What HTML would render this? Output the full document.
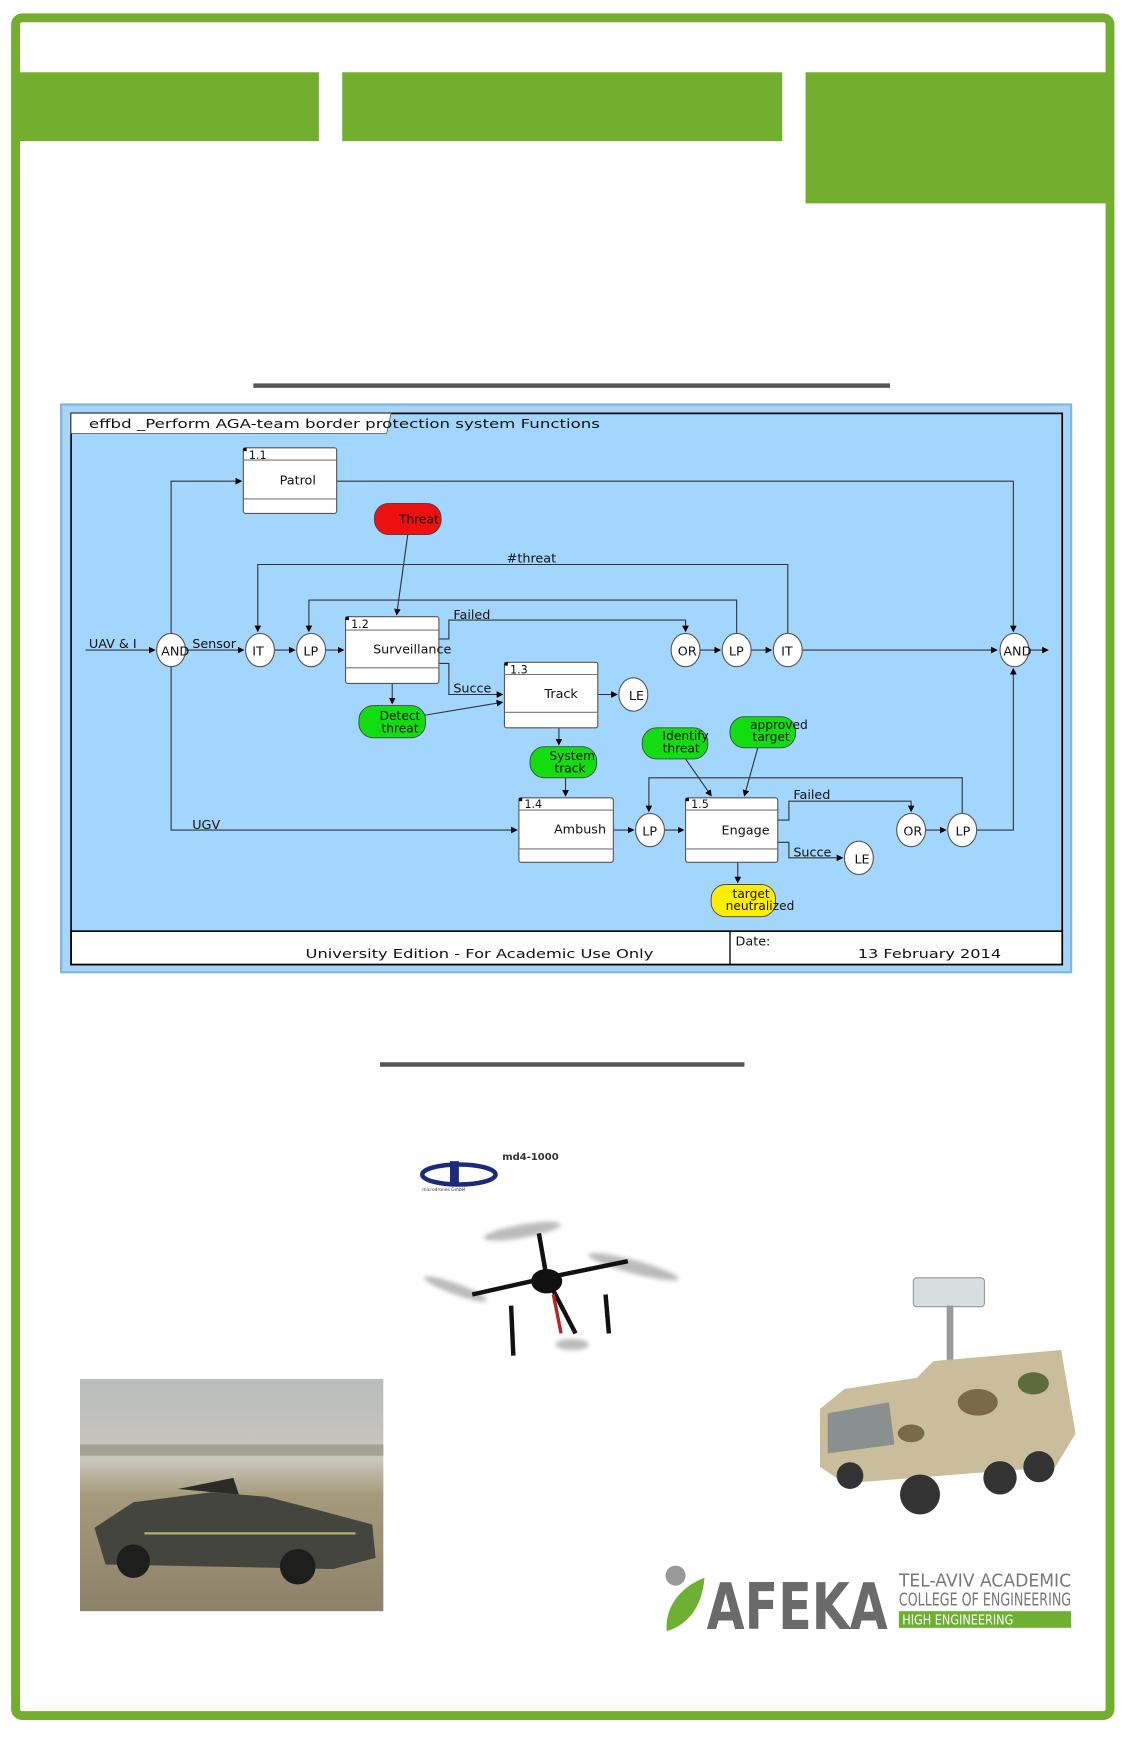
<!DOCTYPE html>
<html><head><meta charset="utf-8"><style>
html,body{margin:0;padding:0;background:#fff;}
svg{display:block;}
text{font-family:"DejaVu Sans","Liberation Sans",sans-serif;}
</style></head><body>
<svg width="1126" height="1739" viewBox="0 0 1013.4 1565" xmlns="http://www.w3.org/2000/svg">
<defs>
<marker id="a" markerWidth="6" markerHeight="6" refX="5" refY="3" orient="auto"><path d="M0,0 L6,3 L0,6z" fill="#000"/></marker>
<linearGradient id="sky" x1="0" y1="0" x2="0" y2="1"><stop offset="0" stop-color="#b9bcbc"/><stop offset="0.35" stop-color="#c9c6bb"/><stop offset="0.5" stop-color="#a59a7c"/><stop offset="1" stop-color="#8d826a"/></linearGradient>
<filter id="bl"><feGaussianBlur stdDeviation="2"/></filter>
</defs>
<rect width="1013.4" height="1565" fill="#fff"/>
<rect x="14" y="16" width="985" height="1528" rx="6" fill="none" stroke="#74ae2f" stroke-width="8"/>
<rect x="18" y="65" width="269" height="62" fill="#74ae2f"/>
<rect x="308" y="65" width="396" height="62" fill="#74ae2f"/>
<rect x="725" y="65" width="272" height="118" fill="#74ae2f"/>
<rect x="228" y="345" width="573" height="4" fill="#555"/>
<rect x="342" y="956" width="328" height="4" fill="#555"/>

<rect x="55" y="364" width="909" height="511" fill="#a8d4f8" stroke="#7fb6e6" stroke-width="2"/>
<rect x="64" y="372" width="892" height="496" fill="#a3d6fc" stroke="#000" stroke-width="1.5"/>
<path d="M64,372 H352 L348,390 H64z" fill="#fff" stroke="#555" stroke-width="0.7"/>
<text x="80" y="385" font-size="11.5" fill="#111" textLength="460" lengthAdjust="spacingAndGlyphs">effbd _Perform AGA-team border protection system Functions</text>
<rect x="64" y="838" width="892" height="30" fill="#fff" stroke="#000" stroke-width="1.5"/>
<line x1="657" y1="838" x2="657" y2="868" stroke="#000" stroke-width="1.2"/>
<text x="275" y="862" font-size="11.5" fill="#111" textLength="313" lengthAdjust="spacingAndGlyphs">University Edition - For Academic Use Only</text>
<text x="662" y="851" font-size="11.5" fill="#111">Date:</text>
<text x="772" y="862" font-size="11.5" fill="#111" textLength="129" lengthAdjust="spacingAndGlyphs">13 February 2014</text>

<g stroke="#333" stroke-width="1" fill="none">
<path d="M77,585 H139" marker-end="url(#a)"/>
<path d="M167,585 H219" marker-end="url(#a)"/>
<path d="M247,585 H265" marker-end="url(#a)"/>
<path d="M293,585 H309" marker-end="url(#a)"/>
<path d="M154,570 V433 H217" marker-end="url(#a)"/>
<path d="M154,600 V747 H465" marker-end="url(#a)"/>
<path d="M303,433 H912 V568" marker-end="url(#a)"/>
<path d="M709,570 V508 H232 V568" marker-end="url(#a)"/>
<path d="M663,570 V540 H278 V568" marker-end="url(#a)"/>
<path d="M395,575 H404 V558 H617 V568" marker-end="url(#a)"/>
<path d="M395,597 H404 V625 H452" marker-end="url(#a)"/>
<path d="M630,585 H648" marker-end="url(#a)"/>
<path d="M676,585 H694" marker-end="url(#a)"/>
<path d="M722,585 H897" marker-end="url(#a)"/>
<path d="M926,585 H943" marker-end="url(#a)"/>
<path d="M538,625 H555" marker-end="url(#a)"/>
<path d="M367,481 L357,553" marker-end="url(#a)"/>
<path d="M353,615 V633" marker-end="url(#a)"/>
<path d="M380,644 L452,632" marker-end="url(#a)"/>
<path d="M503,655 V670" marker-end="url(#a)"/>
<path d="M509,700 V716" marker-end="url(#a)"/>
<path d="M552,747 H570" marker-end="url(#a)"/>
<path d="M598,747 H615" marker-end="url(#a)"/>
<path d="M866,732 V700 H584 V730" marker-end="url(#a)"/>
<path d="M617,683 L640,716" marker-end="url(#a)"/>
<path d="M682,673 L670,716" marker-end="url(#a)"/>
<path d="M700,738 H710 V721 H820 V730" marker-end="url(#a)"/>
<path d="M700,758 H710 V772 H758" marker-end="url(#a)"/>
<path d="M833,747 H851" marker-end="url(#a)"/>
<path d="M879,747 H912 V602" marker-end="url(#a)"/>
<path d="M664,776 V794" marker-end="url(#a)"/>
</g>

<g font-size="11.5" fill="#111">
<text x="80" y="583">UAV &amp; I</text>
<text x="173" y="583">Sensor</text>
<text x="456" y="506">#threat</text>
<text x="408" y="557">Failed</text>
<text x="408" y="623">Succe</text>
<text x="173" y="746">UGV</text>
<text x="714" y="719">Failed</text>
<text x="714" y="771">Succe</text>
</g>

<g stroke="#555" stroke-width="1" fill="#fff">
<rect x="219" y="403" width="84" height="59" rx="2"/>
<rect x="311" y="555" width="84" height="60" rx="2"/>
<rect x="454" y="596" width="84" height="59" rx="2"/>
<rect x="467" y="718" width="85" height="58" rx="2"/>
<rect x="617" y="718" width="83" height="58" rx="2"/>
</g>
<g stroke="#777" stroke-width="1">
<line x1="219" y1="414" x2="303" y2="414"/><line x1="219" y1="449" x2="303" y2="449"/>
<line x1="311" y1="567" x2="395" y2="567"/><line x1="311" y1="601" x2="395" y2="601"/>
<line x1="454" y1="607" x2="538" y2="607"/><line x1="454" y1="641" x2="538" y2="641"/>
<line x1="467" y1="729" x2="552" y2="729"/><line x1="467" y1="764" x2="552" y2="764"/>
<line x1="617" y1="729" x2="700" y2="729"/><line x1="617" y1="764" x2="700" y2="764"/>
</g>
<g fill="#000"><rect x="219" y="403" width="3" height="3"/><rect x="311" y="555" width="3" height="3"/><rect x="454" y="596" width="3" height="3"/><rect x="467" y="718" width="3" height="3"/><rect x="617" y="718" width="3" height="3"/></g>
<g font-size="10" fill="#111">
<text x="224" y="413">1.1</text><text x="316" y="565">1.2</text><text x="459" y="606">1.3</text><text x="472" y="727">1.4</text><text x="622" y="727">1.5</text>
</g>
<g font-size="11.5" fill="#111" text-anchor="middle">
<text x="268" y="436">Patrol</text>
<text x="371" y="588">Surveillance</text>
<text x="505" y="628">Track</text>
<text x="522" y="750">Ambush</text>
<text x="671" y="751">Engage</text>
</g>

<g stroke="#555" stroke-width="1" fill="#fff">
<ellipse cx="154" cy="585" rx="13" ry="15"/>
<ellipse cx="234" cy="585" rx="13" ry="15"/>
<ellipse cx="280" cy="585" rx="13" ry="15"/>
<ellipse cx="617" cy="585" rx="13" ry="15"/>
<ellipse cx="663" cy="585" rx="13" ry="15"/>
<ellipse cx="709" cy="585" rx="13" ry="15"/>
<ellipse cx="913" cy="585" rx="13" ry="15"/>
<ellipse cx="570" cy="625" rx="13" ry="15"/>
<ellipse cx="585" cy="747" rx="13" ry="15"/>
<ellipse cx="820" cy="747" rx="13" ry="15"/>
<ellipse cx="866" cy="747" rx="13" ry="15"/>
<ellipse cx="773" cy="772" rx="13" ry="15"/>
</g>
<g font-size="11.5" fill="#111">
<text x="145" y="590">AND</text><text x="227" y="590">IT</text><text x="273" y="590">LP</text>
<text x="610" y="590">OR</text><text x="656" y="590">LP</text><text x="703" y="590">IT</text><text x="903" y="590">AND</text>
<text x="566" y="630">LE</text><text x="578" y="752">LP</text><text x="813" y="752">OR</text><text x="860" y="752">LP</text><text x="769" y="777">LE</text>
</g>

<g stroke="#444" stroke-width="0.8">
<rect x="337" y="453" width="60" height="28" rx="13" fill="#ee1111"/>
<rect x="323" y="635" width="60" height="29" rx="13" fill="#11dd11"/>
<rect x="477" y="672" width="60" height="28" rx="13" fill="#11dd11"/>
<rect x="578" y="655" width="59" height="28" rx="13" fill="#11dd11"/>
<rect x="657" y="645" width="59" height="28" rx="13" fill="#11dd11"/>
<rect x="640" y="796" width="58" height="29" rx="13" fill="#ffee00"/>
</g>
<g font-size="11" fill="#111" text-anchor="middle">
<text x="377" y="471">Threat</text>
<text x="360" y="648">Detect</text><text x="360" y="659">threat</text>
<text x="515" y="684">System</text><text x="513" y="695">track</text>
<text x="617" y="666">Identify</text><text x="613" y="677">threat</text>
<text x="701" y="656">approved</text><text x="694" y="667">target</text>
<text x="676" y="808">target</text><text x="684" y="819">neutralized</text>
</g>

<text x="452" y="1044" font-size="9" font-weight="bold" fill="#333">md4-1000</text>
<ellipse cx="413" cy="1057" rx="33" ry="9" fill="none" stroke="#1b2a7a" stroke-width="4"/>
<rect x="405" y="1045" width="8" height="22" fill="#1b2a7a"/>
<text x="380" y="1072" font-size="4" fill="#333">microdrones GmbH</text>
<g filter="url(#bl)" fill="#aaa" opacity="0.8">
<ellipse cx="470" cy="1108" rx="35" ry="6" transform="rotate(-10 470 1108)"/>
<ellipse cx="570" cy="1140" rx="42" ry="6" transform="rotate(15 570 1140)"/>
<ellipse cx="410" cy="1160" rx="30" ry="5" transform="rotate(20 410 1160)"/>
<ellipse cx="515" cy="1210" rx="15" ry="5"/>
</g>
<g stroke="#111" stroke-width="4" fill="none">
<path d="M485,1110 L492,1150 L518,1200"/>
<path d="M425,1165 L492,1150 L565,1135"/>
<path d="M460,1175 L462,1220 M545,1165 L548,1200"/>
</g>
<ellipse cx="492" cy="1153" rx="14" ry="11" fill="#111"/>
<line x1="498" y1="1165" x2="505" y2="1200" stroke="#b22" stroke-width="3"/>

<rect x="72" y="1241" width="273" height="209" fill="url(#sky)"/>
<rect x="72" y="1300" width="273" height="10" fill="#8a8a7a" opacity="0.6"/>
<path d="M85,1375 L120,1352 L190,1343 L240,1347 L290,1360 L335,1372 L338,1402 L300,1412 L95,1408 z" fill="#45453f"/>
<path d="M160,1340 L210,1330 L215,1345 z" fill="#2b2b28"/>
<circle cx="120" cy="1405" r="15" fill="#1e1e1c"/><circle cx="268" cy="1410" r="16" fill="#1e1e1c"/>
<path d="M130,1380 H320" stroke="#b8b070" stroke-width="2"/>

<rect x="822" y="1150" width="64" height="26" rx="3" fill="#d8dde0" stroke="#999"/>
<rect x="852" y="1175" width="6" height="70" fill="#999"/>
<path d="M738,1268 L760,1250 L825,1240 L840,1225 L955,1215 L968,1290 L950,1320 L760,1335 L738,1320z" fill="#c9bd9b"/>
<path d="M745,1272 L800,1262 L805,1300 L745,1308z" fill="#8a8f90"/>
<ellipse cx="880" cy="1262" rx="18" ry="12" fill="#7b6a4a"/><ellipse cx="930" cy="1245" rx="14" ry="10" fill="#5e6b3c"/><ellipse cx="820" cy="1290" rx="12" ry="8" fill="#7b6a4a"/>
<circle cx="828" cy="1345" r="18" fill="#333"/><circle cx="900" cy="1330" r="15" fill="#333"/><circle cx="935" cy="1320" r="14" fill="#333"/><circle cx="765" cy="1328" r="12" fill="#333"/>

<circle cx="608" cy="1418" r="9" fill="#999"/>
<path d="M600,1468 C598,1440 620,1425 634,1420 C632,1445 620,1462 600,1468z" fill="#6db033"/>
<text x="636" y="1466" font-size="58" font-weight="bold" fill="#6a6a6a" font-family="Liberation Sans Narrow,Liberation Sans,sans-serif" textLength="163" lengthAdjust="spacingAndGlyphs">AFEKA</text>
<text x="809" y="1428" font-size="16" fill="#777" font-family="Liberation Sans Narrow,Liberation Sans,sans-serif" textLength="155" lengthAdjust="spacingAndGlyphs">TEL-AVIV ACADEMIC</text>
<text x="809" y="1445" font-size="16" fill="#777" font-family="Liberation Sans Narrow,Liberation Sans,sans-serif" textLength="155" lengthAdjust="spacingAndGlyphs">COLLEGE OF ENGINEERING</text>
<rect x="809" y="1450" width="155" height="15" fill="#6db033"/>
<text x="812" y="1462" font-size="12" fill="#fff" font-family="Liberation Sans Narrow,Liberation Sans,sans-serif" textLength="100" lengthAdjust="spacingAndGlyphs">HIGH ENGINEERING</text>
</svg>
</body></html>
